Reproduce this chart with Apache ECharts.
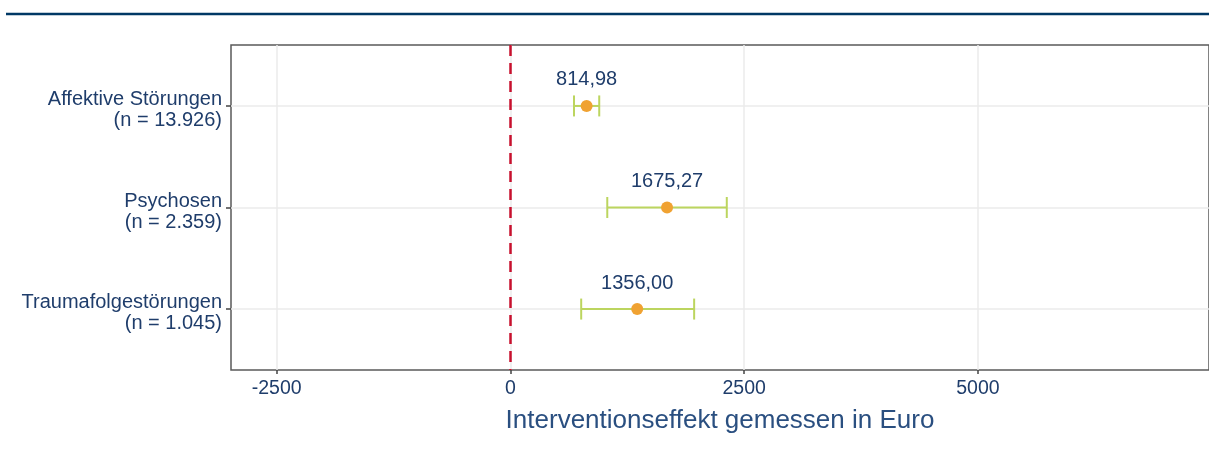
<!DOCTYPE html>
<html>
<head>
<meta charset="utf-8">
<script src="https://cdn.jsdelivr.net/npm/echarts@6/dist/echarts.min.js"></script>
<style>
  html, body { margin: 0; padding: 0; background: #ffffff; }
  #chart { width: 1209px; height: 460px; }
</style>
</head>
<body>
<div id="chart"></div>
<script>
// Gruppen (von oben nach unten) mit Fallzahlen
const categories = ['Affektive Störungen', 'Psychosen', 'Traumafolgestörungen'];
const sampleSizes = ['13.926', '2.359', '1.045'];
// Interventionseffekt (Punktschätzer) und Konfidenzgrenzen in Euro
const effects = [814.98, 1675.27, 1356.00];
const lowerBounds = [680, 1036, 757];
const upperBounds = [950, 2314, 1965];
// Beschriftete Achsenwerte
const xTicks = [-2500, 0, 2500, 5000];
const xTitle = 'Interventionseffekt gemessen in Euro';

const TEXT = '#1f3d6b';
const FONT = '"Liberation Sans", Arial, sans-serif';

// Zeilenpositionen 1..n auf der (invertierten) y-Achse
const rows = categories.map((_, i) => i + 1);
const pointData = effects.map((v, i) => [v, rows[i]]);
const barData = effects.map((v, i) => [lowerBounds[i], upperBounds[i], rows[i]]);

const chart = echarts.init(document.getElementById('chart'), null, { renderer: 'canvas' });

chart.setOption({
  animation: false,
  backgroundColor: '#ffffff',
  textStyle: { fontFamily: FONT },
  grid: {
    left: 231, right: -1, top: 45, bottom: 90,
    show: true, borderColor: '#5a5a5a', borderWidth: 1.5, backgroundColor: 'transparent'
  },
  xAxis: {
    type: 'value',
    min: -2988, max: 7471,
    axisLine: { show: false, onZero: false },
    axisTick: { show: true, customValues: xTicks, length: 4, lineStyle: { color: '#444', width: 1.5 } },
    axisLabel: {
      customValues: xTicks, color: TEXT, fontSize: 19.5, fontFamily: FONT, margin: 9,
      formatter: v => String(v)
    },
    splitLine: { show: true, lineStyle: { color: '#ebebeb', width: 1.5 } }
  },
  yAxis: {
    type: 'value',
    inverse: true,
    min: 0.4, max: 3.6,
    axisLine: { show: false, onZero: false },
    axisTick: { show: true, customValues: rows, length: 5, lineStyle: { color: '#444', width: 1.5 } },
    axisLabel: {
      customValues: rows, color: TEXT, fontSize: 20, fontFamily: FONT, margin: 9,
      align: 'right',
      formatter: v => {
        const i = Math.round(v) - 1;
        return '{t|' + categories[i] + '}\n{n|(n = ' + sampleSizes[i] + ')}';
      },
      rich: {
        t: { color: TEXT, fontSize: 20, fontFamily: FONT, lineHeight: 29, align: 'right' },
        n: { color: TEXT, fontSize: 20, fontFamily: FONT, lineHeight: 13, align: 'right' }
      }
    },
    splitLine: { show: true, lineStyle: { color: '#ebebeb', width: 1.5 } }
  },
  graphic: [
    {
      type: 'line', silent: true,
      shape: { x1: 6, y1: 14, x2: 1209, y2: 14 },
      style: { stroke: '#003865', lineWidth: 2.5 }
    },
    {
      type: 'text', silent: true,
      x: 720, y: 421,
      style: {
        text: xTitle, fill: '#2a4f80', font: '26px ' + FONT,
        align: 'center', verticalAlign: 'middle'
      }
    }
  ],
  series: [
    {
      // Konfidenzintervalle als Fehlerbalken
      type: 'custom',
      data: barData,
      z: 3,
      renderItem: (params, api) => {
        const lo = api.coord([api.value(0), api.value(2)]);
        const hi = api.coord([api.value(1), api.value(2)]);
        const cap = 10.5;
        const style = { stroke: '#bcd55f', lineWidth: 2 };
        return {
          type: 'group',
          children: [
            { type: 'line', shape: { x1: lo[0], y1: lo[1], x2: hi[0], y2: hi[1] }, style },
            { type: 'line', shape: { x1: lo[0], y1: lo[1] - cap, x2: lo[0], y2: lo[1] + cap }, style },
            { type: 'line', shape: { x1: hi[0], y1: hi[1] - cap, x2: hi[0], y2: hi[1] + cap }, style }
          ]
        };
      }
    },
    {
      type: 'scatter',
      data: pointData,
      z: 4,
      symbol: 'circle',
      symbolSize: 12,
      itemStyle: { color: '#f0a232', opacity: 1 },
      label: {
        show: true, position: 'top', distance: 10,
        color: TEXT, fontSize: 20, fontFamily: FONT,
        formatter: p => p.value[0].toFixed(2).replace('.', ',')
      },
      markLine: {
        silent: true, symbol: 'none', label: { show: false },
        lineStyle: { color: '#c8102e', type: [11, 7], width: 2.5 },
        data: [{ xAxis: 0 }]
      }
    }
  ]
});
</script>
</body>
</html>
